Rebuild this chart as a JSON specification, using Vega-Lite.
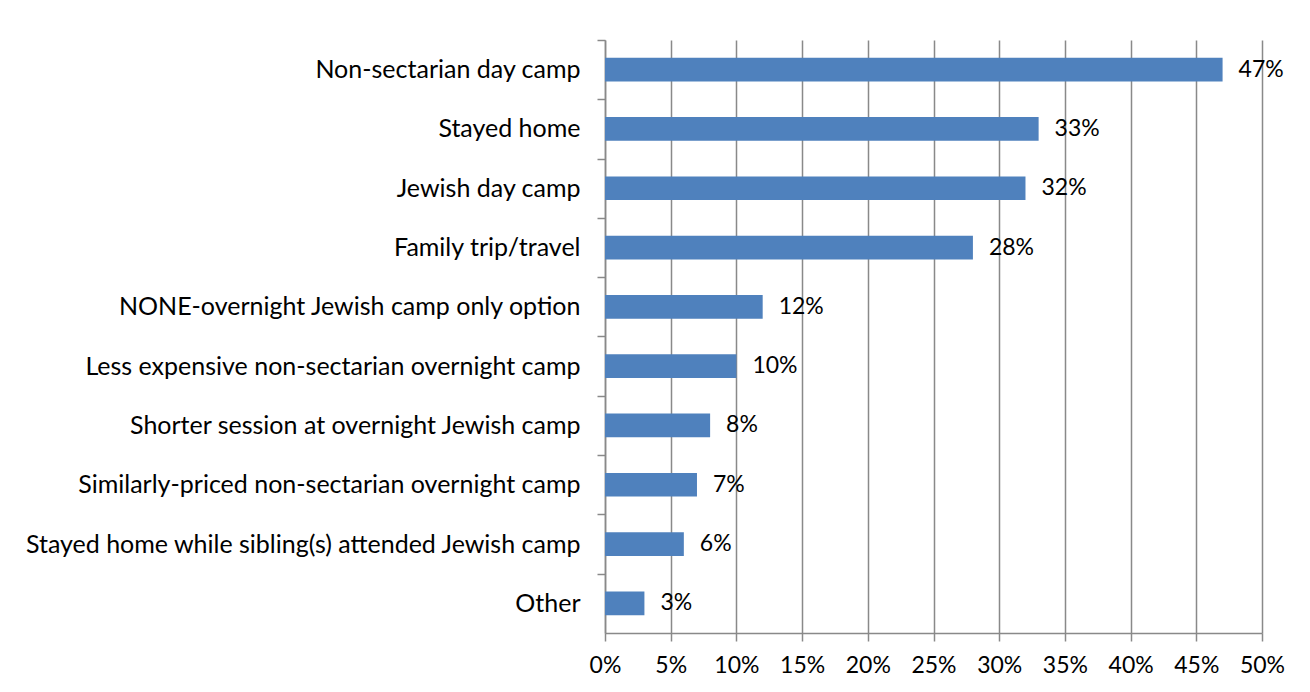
{
  "$schema": "https://vega.github.io/schema/vega-lite/v6.json",
  "autosize": "none",
  "width": 657,
  "height": 593,
  "padding": {"left": 605, "top": 40, "right": 48, "bottom": 59},
  "background": "white",
  "config": {
    "view": {"stroke": null},
    "font": "Lato",
    "axis": {"labelFont": "Lato", "labelFontSize": 23, "labelColor": "#000000", "labelLimit": 700, "labelOverlap": false, "labelFlush": false, "domainColor": "#898989", "tickColor": "#898989", "gridColor": "#898989", "domainWidth": 1.5, "tickWidth": 1.5, "gridWidth": 1.5, "gridOpacity": 1}
  },
  "data": {
    "values": [
      {"option": "Non-sectarian day camp", "share": 0.47},
      {"option": "Stayed home", "share": 0.33},
      {"option": "Jewish day camp", "share": 0.32},
      {"option": "Family trip/travel", "share": 0.28},
      {"option": "NONE-overnight Jewish camp only option", "share": 0.12},
      {"option": "Less expensive non-sectarian overnight camp", "share": 0.10},
      {"option": "Shorter session at overnight Jewish camp", "share": 0.08},
      {"option": "Similarly-priced non-sectarian overnight camp", "share": 0.07},
      {"option": "Stayed home while sibling(s) attended Jewish camp", "share": 0.06},
      {"option": "Other", "share": 0.03}
    ]
  },
  "encoding": {
    "y": {
      "field": "option", "type": "nominal", "sort": null,
      "scale": {"paddingInner": 0.6, "paddingOuter": 0.3},
      "axis": {"title": null, "bandPosition": 0, "tickOffset": -17.8, "labelOffset": 17.8, "tickSize": 8, "labelPadding": 17, "labelFontSize": 25, "grid": false, "domain": true}
    },
    "x": {
      "field": "share", "type": "quantitative",
      "scale": {"domain": [0, 0.5], "nice": false},
      "axis": {"title": null, "values": [0, 0.05, 0.1, 0.15, 0.2, 0.25, 0.3, 0.35, 0.4, 0.45, 0.5], "format": ".0%", "tickSize": 8, "labelPadding": 13, "grid": true, "domain": true}
    }
  },
  "layer": [
    {"mark": {"type": "bar", "color": "#4F81BD"}},
    {"mark": {"type": "text", "align": "left", "baseline": "middle", "dx": 16, "fontSize": 23, "font": "Lato", "color": "#000000"},
     "encoding": {"text": {"field": "share", "type": "quantitative", "format": ".0%"}}}
  ]
}
